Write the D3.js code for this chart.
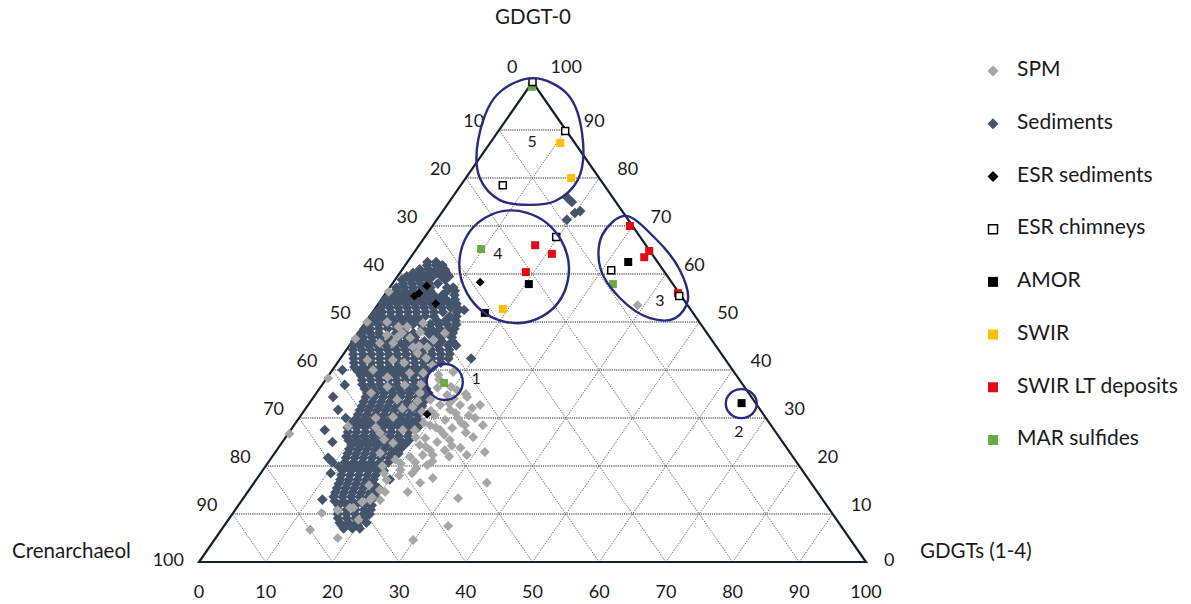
<!DOCTYPE html>
<html><head><meta charset="utf-8">
<script src="https://cdn.jsdelivr.net/npm/d3@7"></script>
<style>html,body{margin:0;padding:0;background:#fff;}svg{display:block;font-family:Lato,"Open Sans",sans-serif;}</style>
</head><body><svg id="chart" width="1191" height="604"></svg>
<script>
// ---- data: each point is [GDGT-0 %, GDGTs(1-4) %]; Crenarchaeol = 100 - both ----
const axisTicks = [0,10,20,30,40,50,60,70,80,90,100];
const seriesNames = ["SPM","Sediments","ESR sediments","ESR chimneys","AMOR","SWIR","SWIR LT deposits","MAR sulfides"];

// Sediments: rows of [GDGT-0, [GDGTs(1-4) values]]
const sedimentRows = [
 [62.5,[3.0,4.3]],
 [61.8,[3.3,4.6,5.6]],
 [61.0,[2.6,3.9,5.1,6.3]],
 [60.2,[2.0,3.3,4.6,5.9,7.0]],
 [59.5,[1.4,2.7,4.0,5.3,6.6,7.7]],
 [58.8,[1.0,2.3,3.6,4.9,7.5]],
 [58.0,[1.6,2.9,4.2,5.5,6.8]],
 [57.2,[1.0,2.2,3.5,4.8,6.1,8.6,9.5]],
 [56.5,[1.2,2.5,3.8,5.1,6.4,9.0,10.1]],
 [55.6,[0.9,2.2,3.5,4.8,6.1,7.4,8.7,10.5]],
 [54.7,[0.6,1.9,3.2,4.5,5.8,7.1,8.4,9.7,11.0]],
 [53.8,[0.6,1.5,2.8,4.1,5.4,6.7,8.0,9.3,10.6,11.7]],
 [53.0,[0.8,2.1,3.4,4.7,6.0,7.3,8.6,9.9,11.2,12.2]],
 [52.1,[0.6,1.4,2.7,4.0,5.3,6.6,7.9,9.2,10.5,12.6]],
 [51.2,[0.5,1.8,3.1,4.4,5.7,7.0,8.3,9.6,12.0,13.0]],
 [50.3,[0.6,1.4,2.7,4.0,5.3,6.6,7.9,10.5,11.8,13.3]],
 [49.5,[0.8,2.1,3.4,4.7,6.0,7.3,8.6,9.9,11.2,12.5,13.8]],
 [48.6,[0.5,1.4,2.7,4.0,5.3,6.6,9.2,10.5,11.8,13.1,14.0]],
 [47.7,[0.5,1.8,3.1,5.7,7.0,8.3,10.5,11.8,13.1,14.2]],
 [46.8,[0.4,1.2,2.5,3.8,5.1,6.4,7.7,9.0,11.6,12.9,14.5]],
 [46.0,[0.4,1.7,3.0,4.3,5.6,6.9,8.2,9.5,10.8,13.4,15.0]],
 [45.1,[0.6,1.6,2.9,4.2,5.5,6.8,8.1,9.4,10.7,12.0,13.3,14.8,16.0]],
 [44.2,[1.0,2.3,3.6,4.9,6.2,7.5,8.8,10.1,11.4,12.7,14.0,15.4]],
 [43.3,[1.5,2.9,4.2,5.5,6.8,8.1,9.4,10.7,12.0,13.3,14.6,15.9]],
 [42.4,[2.0,3.3,4.6,5.9,7.2,8.5,9.8,11.1,12.4,13.7,15.0,16.2,19.6]],
 [41.5,[2.5,3.8,5.1,6.4,7.7,9.0,10.3,11.6,12.9,14.2,15.5]],
 [40.6,[3.0,4.3,5.6,6.9,8.2,9.5,10.8,12.1,13.4,14.8]],
 [40.0,[1.5]],
 [39.7,[4.0,5.3,6.6,7.9,9.2,10.5,11.8,13.1,14.4]],
 [38.8,[4.9,6.2,7.5,8.8,10.1,11.4,12.7,14.2]],
 [37.9,[5.5,6.8,8.1,9.4,10.7,12.0,13.3,14.6]],
 [37.0,[6.0,7.3,8.6,9.9,11.2,12.5,13.8,15.1]],
 [36.9,[3.4]],
 [36.1,[6.8,8.1,9.4,10.7,12.0,13.3,14.6,16.0]],
 [35.2,[7.6,8.9,10.2,11.5,12.8,14.1,15.4,16.8]],
 [34.4,[2.9,7.8,9.1,10.4,11.7,13.0,14.3,15.6,16.9]],
 [33.4,[8.0,9.3,10.6,11.9,13.2,14.5,15.8,17.0]],
 [32.5,[8.2,9.5,10.8,12.1,13.4,14.7,16.0,17.2]],
 [31.7,[5.0]],
 [31.6,[8.3,9.6,10.9,12.2,13.5,14.8,16.1,17.3]],
 [30.7,[8.5,9.8,11.1,12.4,13.7,15.0,16.3,17.5]],
 [30.0,[7.0]],
 [29.8,[8.6,9.9,11.2,12.5,13.8,15.1,16.4,17.8]],
 [28.9,[8.4,9.7,11.0,12.3,13.6,14.9,16.2,17.5,18.5]],
 [28.0,[8.3,9.6,10.9,12.2,13.5,14.8,16.1,17.4,18.8]],
 [27.5,[5.1]],
 [27.1,[8.8,10.1,11.4,12.7,14.0,15.3,16.6,17.9]],
 [26.2,[9.0,10.3,11.6,12.9,14.2,15.5,16.8,18.2]],
 [25.3,[9.8,11.1,12.4,13.7,15.0,16.3,17.6,18.8]],
 [25.0,[7.5]],
 [24.4,[10.7,12.0,13.3,14.6,15.9,17.2,18.6]],
 [23.5,[10.8,12.1,13.4,14.7,16.0,17.3,18.4]],
 [22.6,[11.0,12.3,13.6,14.9,16.2,17.5,18.6]],
 [21.7,[8.5,11.2,12.5,13.8,15.1,16.4,17.7]],
 [21.3,[9.0]],
 [20.8,[9.6,11.5,12.8,14.1,15.4,16.7,18.0]],
 [19.9,[11.0,12.4,13.7,15.0,16.3,17.6]],
 [19.0,[12.0,13.3,14.6,15.9,17.2,18.2]],
 [18.5,[10.5]],
 [18.1,[12.3,13.6,14.9,16.2,17.4]],
 [17.2,[12.6,13.9,15.2,16.5,17.6,20.0]],
 [16.3,[12.8,14.1,15.4,16.7,18.0]],
 [15.4,[13.0,14.3,15.6,16.9,18.2,19.2]],
 [14.5,[13.2,14.5,15.8,17.1,18.4,19.4]],
 [13.6,[13.4,14.7,16.0,17.3,18.6,19.6]],
 [13.0,[12.0]],
 [12.7,[14.0,15.3,16.6,17.9,19.2]],
 [11.8,[15.0,16.3,17.6,18.9,20.0]],
 [10.9,[15.4,16.7,18.0,19.3,20.3]],
 [10.0,[15.8,17.1,18.4,19.7,20.6]],
 [9.1,[16.3,17.6,18.9,20.2]],
 [8.2,[17.0,18.3,19.6,21.0]],
 [7.6,[17.6,18.9,20.0]],
 [7.0,[18.2,19.5,20.6]],
 [52.5,[13.5]],
 [60.8,[6.5]],
 [75.8,[17.4]],[75.0,[18.4]],[72.7,[20.0]],[73.1,[20.6]],[71.3,[19.5]]
];
const sediments = sedimentRows.flatMap(([g0, list]) => list.map(g14 => [g0, g14]));

const spm = [
 [56.3,0.3],[50.0,0.2],[46.5,0.2],[38.3,0.2],[26.7,0.2],[35.2,8.2],[28.3,8.2],
 [22.3,22.4],[22.3,23.9],[20.8,22.0],[18.5,22.7],[16.5,24.9],[17.5,26.3],[14.6,24.0],
 [13.3,32.2],[22.9,31.4],[16.5,34.9],[22.3,29.0],[26.0,28.1],[14.6,20.6],[12.9,20.7],
 [12.5,18.2],[13.5,19.2],[11.3,17.0],[10.8,15.4],[10.2,13.3],[6.7,13.3],[5.0,18.3],
 [4.6,29.8],[7.5,33.6],[50.0,3.2],[49.0,6.7],[49.8,8.7],[46.9,6.3],[44.8,9.7],
 [45.6,4.3],[42.1,8.0],[39.4,11.9],[46.3,12.0],[47.7,13.0],[33.8,12.8],[32.3,15.9],
 [30.2,14.0],[26.9,13.7],[24.8,16.7],[22.7,15.8],[21.9,20.7],[17.1,19.6],[15.0,19.6],
 [12.9,19.2],[11.3,17.5],[49.0,5.4],[47.7,6.6],[46.7,8.3],[47.9,9.2],[45.6,6.3],
 [44.8,11.8],[47.3,4.5],[39.0,16.4],[39.6,18.3],[35.8,20.8],[36.3,17.6],[39.4,13.9],
 [32.1,24.9],[28.5,28.3],[34.4,23.0],[33.8,17.8],[32.7,19.8],[31.7,21.8],[30.6,20.1],
 [29.6,22.1],[30.0,23.8],[28.5,20.4],[27.5,22.4],[27.9,24.0],[28.5,25.6],[25.8,21.0],
 [25.0,23.2],[25.4,24.9],[31.3,17.8],[32.7,22.8],[34.8,19.8],[30.0,26.4],[24.4,20.9],
 [23.3,23.0],[23.3,25.2],[27.5,18.6],[35.2,15.5],[36.9,12.4],[27.5,16.8],[53.5,39.0],
 [32.7,25.8],[20.2,24.1],[19.2,20.6],[8.8,19.5],[21.3,18.8],[42.1,4.2],[40.0,6.1],[36.5,10.0],
 [33.0,21.0],[31.0,23.0],[29.0,24.8],[27.0,26.5],[26.5,23.5],[29.0,19.2],[31.5,19.0],
 [34.0,21.2],[36.5,19.5],[35.0,22.5],[30.5,25.2],[28.0,21.5],[26.0,19.5],[24.0,22.0],
 [24.2,25.8],[22.0,26.5],[23.8,27.3],[21.0,24.5],[19.5,22.8],[18.0,21.0],[20.5,20.0],
 [32.0,14.5],[33.5,16.0],[37.0,14.8],[38.0,17.0],[41.0,14.5],[43.5,11.0],[45.0,10.5],
 [41.5,10.0],[38.5,9.0],[30.0,11.5],[28.0,12.5],[25.5,15.0],[20.0,17.5],[18.5,18.5],
 [16.0,17.5],[42.5,12.8]
];
const esrSediments = [[58.3,13.0],[57.5,5.4],[55.4,4.6],[56.0,5.0],[53.8,8.6],[30.8,18.8]];
const esrChimneys = [[100.0,0.0],[89.8,10.0],[78.5,6.3],[67.7,19.7],[60.8,31.4],[55.4,44.3]];
const amor = [[62.5,33.1],[57.9,20.5],[51.9,16.9],[33.1,64.8]];
const swir = [[87.3,10.5],[80.0,15.8],[52.7,19.2]];
const swirLT = [[70.0,29.6],[66.0,17.4],[64.2,20.8],[60.4,18.8],[64.8,35.1],[63.5,35.0],[56.0,43.8]];
const marSulfides = [[99.0,0.4],[65.2,9.7],[57.9,33.1],[37.3,18.1]];

// group annotations (ternary positions)
const groupLabels = [["1",37.9,22.6],["2",26.9,67.5],["3",54.2,42.0],["4",64.0,12.8],["5",87.3,6.3]];
const group1 = [37.5,18.1], group2 = [33.0,64.8], group4 = [61.5,16.5];
const group5Outline = [[100.8,-0.3],[97.3,6.7],[87.9,13.6],[79.6,17.0],[75.2,15.8],[74.4,12.4],[75.4,7.4],[80.0,2.1],[87.9,-2.1],[97.3,-4.0]];
const group3Outline = [[72.1,27.8],[67.5,34.6],[60.8,41.7],[54.6,46.0],[50.8,46.0],[50.8,42.2],[55.0,35.6],[61.3,29.5],[68.1,26.4]];

// ---- drawing ----
const svg = d3.select("#chart");
const x = d3.scaleLinear().domain([0,100]).range([199,866]);
const y = d3.scaleLinear().domain([0,100]).range([562,82]);
const P = (g0,g14) => [x(g14 + g0/2), y(g0)];

const grid = svg.append("g");
const levels = axisTicks.slice(1,-1);
levels.forEach(v => {
  const a = P(v,0), b = P(v,100-v);
  grid.append("line").attr("x1",a[0]).attr("y1",a[1]).attr("x2",b[0]).attr("y2",b[1])
    .attr("stroke","#222").attr("stroke-width",1.1).attr("stroke-dasharray","1.2,1");
});
levels.forEach(v => {
  let a = P(0,v), b = P(100-v,v);
  grid.append("line").attr("x1",a[0]).attr("y1",a[1]).attr("x2",b[0]).attr("y2",b[1])
    .attr("stroke","#555").attr("stroke-width",0.8).attr("stroke-dasharray","1.5,1.2");
  a = P(0,100-v); b = P(100-v,0);
  grid.append("line").attr("x1",a[0]).attr("y1",a[1]).attr("x2",b[0]).attr("y2",b[1])
    .attr("stroke","#555").attr("stroke-width",0.8).attr("stroke-dasharray","1.5,1.2");
});
const tri = [P(0,0),P(0,100),P(100,0)];
svg.append("path").attr("d","M"+tri.map(p=>p.join(",")).join("L")+"Z")
  .attr("fill","none").attr("stroke","#15202e").attr("stroke-width",2.2).attr("stroke-linejoin","miter");

// tick labels
const lab = svg.append("g").attr("font-size",18).attr("fill","#1a1a1a");
const lift = v => v === 100 ? 1 : (v === 0 ? 14 : 8);
axisTicks.forEach(v => {
  const l = P(100-v,0);
  lab.append("text").attr("x",l[0]-15).attr("y",l[1]-lift(v)).attr("text-anchor","end").attr("dominant-baseline","middle").text(v);
  const r = P(v,100-v);
  lab.append("text").attr("x",r[0]+18).attr("y",r[1]-lift(100-v)).attr("text-anchor","start").attr("dominant-baseline","middle").text(v);
  const b = P(0,v);
  lab.append("text").attr("x",b[0]).attr("y",593).attr("text-anchor","middle").attr("dominant-baseline","middle").text(v);
});
const tt = svg.append("g").attr("font-size",20.5).attr("fill","#1a1a1a");
tt.append("text").attr("x",533).attr("y",19).attr("text-anchor","middle").attr("dominant-baseline","middle").text("GDGT-0");
tt.append("text").attr("x",12).attr("y",553).attr("dominant-baseline","middle").text("Crenarchaeol");
tt.append("text").attr("x",920).attr("y",553).attr("dominant-baseline","middle").text("GDGTs (1-4)");

// markers
const diamond = r => `M0,${-r}L${r},0L0,${r}L${-r},0Z`;
const sq = s => `M${-s/2},${-s/2}h${s}v${s}h${-s}Z`;
const styles = {
  "SPM": {d: diamond(5.0), fill:"#a6a6a6", stroke:"none"},
  "Sediments": {d: diamond(5.3), fill:"#44546a", stroke:"none"},
  "ESR sediments": {d: diamond(4.4), fill:"#000", stroke:"none"},
  "ESR chimneys": {d: sq(7), fill:"#fff", stroke:"#000", sw:1.5},
  "AMOR": {d: sq(8), fill:"#000", stroke:"none"},
  "SWIR": {d: sq(8), fill:"#ffc000", stroke:"none"},
  "SWIR LT deposits": {d: sq(8), fill:"#e30613", stroke:"none"},
  "MAR sulfides": {d: sq(8), fill:"#6aaa46", stroke:"none"}
};
function plot(data, name){
  const s = styles[name];
  svg.append("g").selectAll("path").data(data).join("path")
    .attr("transform", d => { const p = P(d[0],d[1]); return `translate(${p[0]},${p[1]})`; })
    .attr("d", s.d).attr("fill", s.fill).attr("stroke", s.stroke).attr("stroke-width", s.sw||0);
}
plot(sediments,"Sediments");
plot(spm,"SPM");
plot(marSulfides,"MAR sulfides");
plot(esrSediments,"ESR sediments");
plot(amor,"AMOR");
plot(swir,"SWIR");
plot(swirLT,"SWIR LT deposits");
plot(esrChimneys,"ESR chimneys");

// group outlines
const navy = "#2b2a7f";
const ann = svg.append("g").attr("fill","none").attr("stroke",navy).attr("stroke-width",2.4);
const closed = d3.line().curve(d3.curveCatmullRomClosed.alpha(0.5));
ann.append("path").attr("d", closed(group5Outline.map(d=>P(d[0],d[1]))));
ann.append("path").attr("d", closed(group3Outline.map(d=>P(d[0],d[1]))));
[[group4,54,57,-30],[group1,18,18,0],[group2,15.5,14.5,0]].forEach(([c,rx,ry,rot]) => {
  const p = P(c[0],c[1]);
  ann.append("ellipse").attr("cx",0).attr("cy",0).attr("rx",rx).attr("ry",ry)
    .attr("transform",`translate(${p[0]},${p[1]}) rotate(${rot})`);
});
svg.append("g").attr("font-size",16).attr("fill","#1a1a1a").selectAll("text").data(groupLabels).join("text")
  .attr("x", d => P(d[1],d[2])[0]).attr("y", d => P(d[1],d[2])[1])
  .attr("text-anchor","middle").attr("dominant-baseline","middle").text(d => d[0]);

// legend
const legendStyles = {
  "SPM": {d: diamond(5.5)}, "Sediments": {d: diamond(5.5)}, "ESR sediments": {d: diamond(5.5)},
  "ESR chimneys": {d: sq(9)}, "AMOR": {d: sq(10)}, "SWIR": {d: sq(10)}, "SWIR LT deposits": {d: sq(10)}, "MAR sulfides": {d: sq(10)}
};
const ly = d3.scalePoint().domain(seriesNames).range([71,440]);
const leg = svg.append("g");
seriesNames.forEach(n => {
  const s = styles[n];
  leg.append("path").attr("transform",`translate(993,${ly(n)})`).attr("d",legendStyles[n].d)
    .attr("fill",s.fill).attr("stroke",s.stroke).attr("stroke-width",s.sw||0);
  leg.append("text").attr("x",1017).attr("y",ly(n)).attr("dominant-baseline","middle")
    .attr("font-size",21).attr("fill","#1a1a1a").text(n);
});
</script></body></html>
